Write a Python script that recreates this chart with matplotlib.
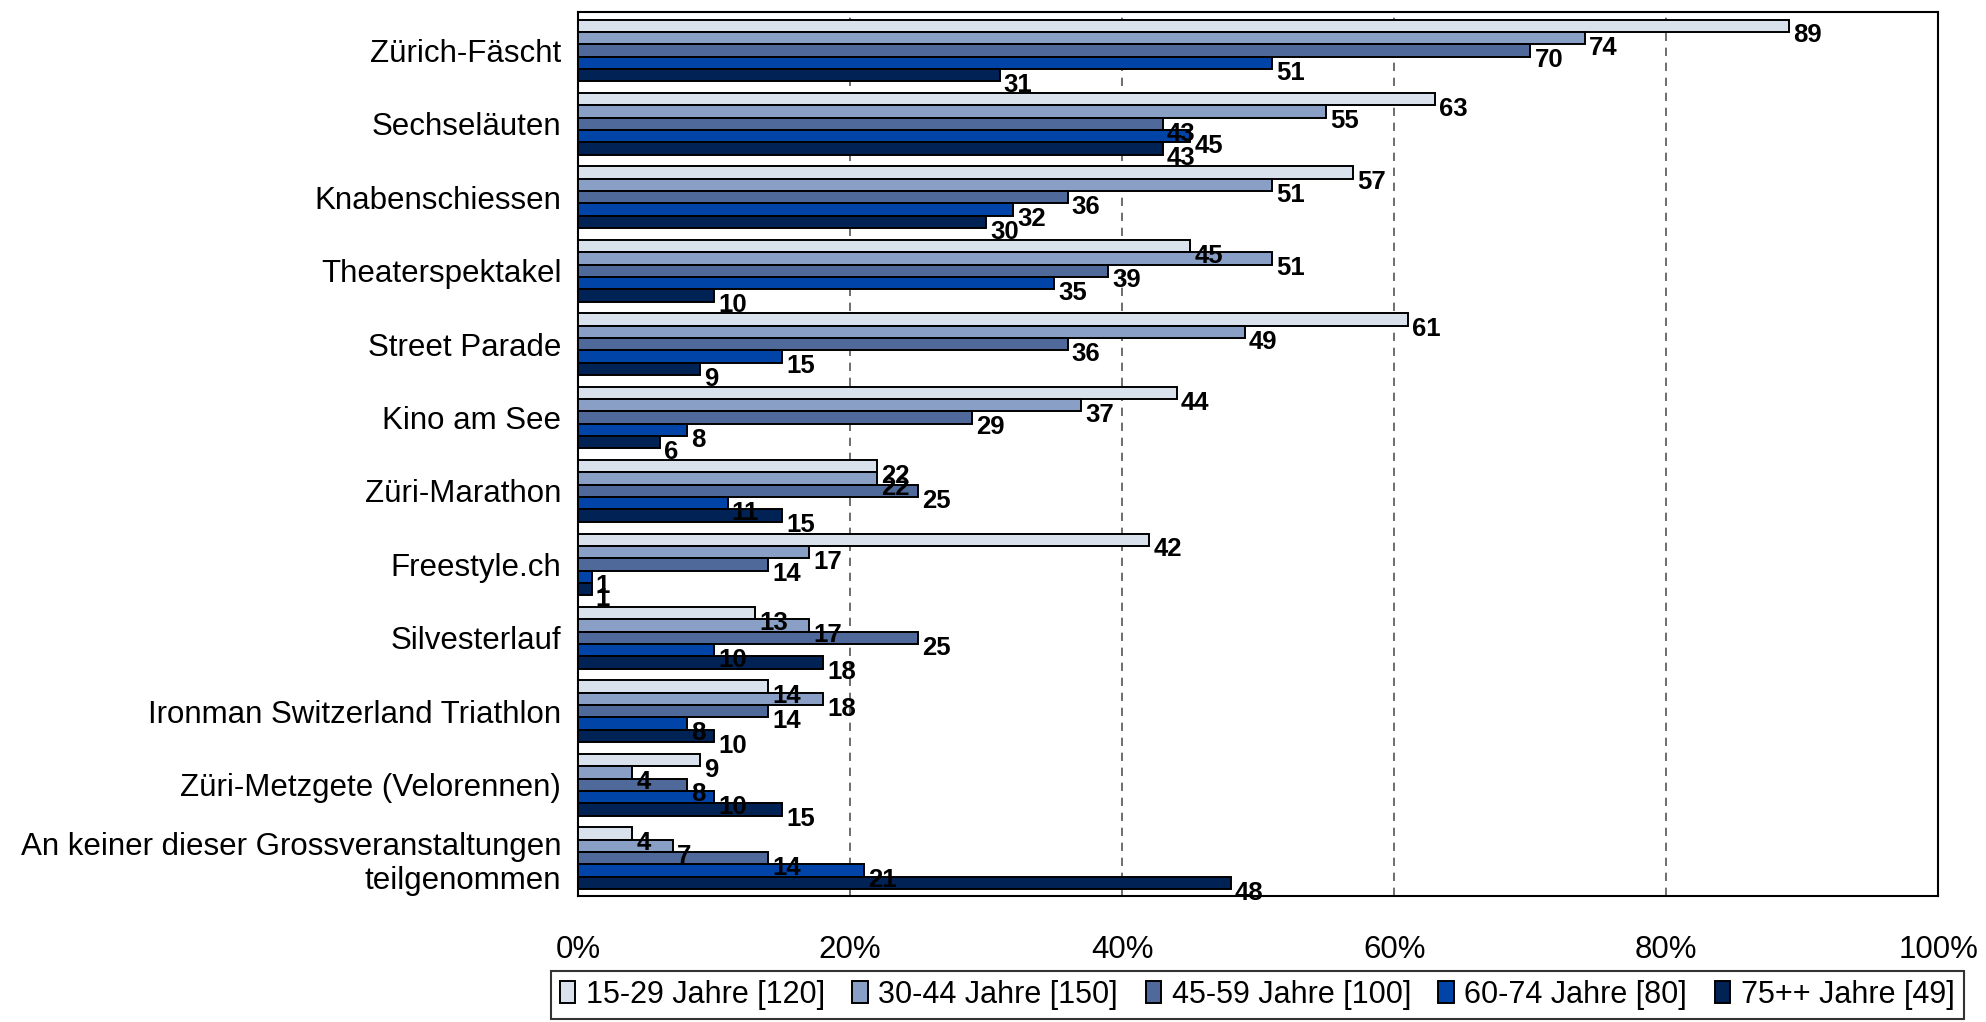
import matplotlib.pyplot as plt
import numpy as np

plt.rcParams['font.family'] = ['Liberation Sans', 'DejaVu Sans']

categories = ["Zürich-Fäscht", "Sechseläuten", "Knabenschiessen", "Theaterspektakel",
              "Street Parade", "Kino am See", "Züri-Marathon", "Freestyle.ch",
              "Silvesterlauf", "Ironman Switzerland Triathlon", "Züri-Metzgete (Velorennen)",
              "An keiner dieser Grossveranstaltungen\nteilgenommen"]
series = ["15-29 Jahre [120]", "30-44 Jahre [150]", "45-59 Jahre [100]",
          "60-74 Jahre [80]", "75++ Jahre [49]"]
v15 = [89, 63, 57, 45, 61, 44, 22, 42, 13, 14, 9, 4]
v30 = [74, 55, 51, 51, 49, 37, 22, 17, 17, 18, 4, 7]
v45 = [70, 43, 36, 39, 36, 29, 25, 14, 25, 14, 8, 14]
v60 = [51, 45, 32, 35, 15, 8, 11, 1, 10, 8, 10, 21]
v75 = [31, 43, 30, 10, 9, 6, 15, 1, 18, 10, 15, 48]
colors = ["#d9e1ec", "#8a9fc6", "#4f6a9a", "#0044a8", "#002255"]

data = [v15, v30, v45, v60, v75]
n = len(categories)
y = np.arange(n)
h = 0.168

fig = plt.figure(figsize=(19.86, 10.22), dpi=100)
ax = fig.add_axes([0.291, 0.123, 0.685, 0.865])

for i, vals in enumerate(data):
    pos = y - 2 * h + i * h
    bars = ax.barh(pos, vals, height=h, color=colors[i], edgecolor="black",
                   linewidth=1.4, label=series[i], zorder=3)
    for b, v in zip(bars, vals):
        ax.annotate(str(v), (v, b.get_y() + b.get_height() / 2), xytext=(3, -7),
                    textcoords="offset points", va="center", ha="left",
                    fontsize=18.5, fontweight="bold", zorder=4)

ax.set_ylim(n - 0.5 + 0.02, -0.5 - 0.02)
ax.set_xlim(0, 100)
ax.set_yticks(y)
ax.set_yticklabels(categories, fontsize=22.5, ha="right", multialignment="right")
ax.set_xticks([0, 20, 40, 60, 80, 100])
ax.set_xticklabels(["0%", "20%", "40%", "60%", "80%", "100%"], fontsize=22.5)
ax.tick_params(axis="both", length=0)
ax.tick_params(axis="y", pad=12)
ax.tick_params(axis="x", pad=28)
ax.grid(axis="x", linestyle=(0, (5, 4)), color="#555555", linewidth=1.2, zorder=0)
for s in ax.spines.values():
    s.set_linewidth(1.5)

leg = fig.legend(loc="lower center", bbox_to_anchor=(0.633, -0.012), ncol=5,
                 fontsize=22, frameon=True, fancybox=False, edgecolor="black",
                 handlelength=0.5, handleheight=0.7, handletextpad=0.35,
                 columnspacing=0.9, borderpad=0.3)
leg.get_frame().set_linewidth(1.5)

fig.savefig("out.png", dpi=100)
